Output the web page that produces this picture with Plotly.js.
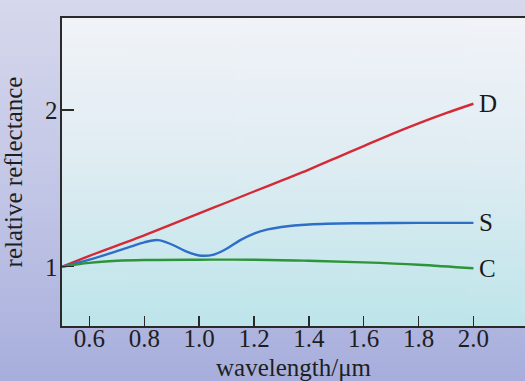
<!DOCTYPE html>
<html>
<head>
<meta charset="utf-8">
<script src="https://cdn.plot.ly/plotly-3.0.1.min.js"></script>
<style>
html,body{margin:0;padding:0;}
body{width:525px;height:381px;overflow:hidden;background:linear-gradient(180deg,#d6d8ec 0%,#c2c6e6 50%,#a7aedc 100%);}
#chart{width:525px;height:381px;}
</style>
</head>
<body>
<div id="chart"></div>
<script>
// Data (wavelength in micrometres, relative reflectance)
const dWave = [0.5, 0.6, 0.7, 0.8, 0.9, 1.0, 1.1, 1.2, 1.3, 1.4, 1.5, 1.6, 1.7, 1.8, 1.9, 2.0];
const dRefl = [1.0, 1.07, 1.135, 1.2, 1.27, 1.34, 1.41, 1.48, 1.55, 1.62, 1.695, 1.77, 1.845, 1.915, 1.98, 2.04];

const sWave = [0.5, 0.6, 0.7, 0.75, 0.8, 0.85, 0.9, 0.95, 1.0, 1.05, 1.1, 1.15, 1.2, 1.25, 1.3, 1.4, 1.6, 1.8, 2.0];
const sRefl = [1.0, 1.045, 1.1, 1.128, 1.156, 1.17, 1.142, 1.1, 1.072, 1.076, 1.115, 1.17, 1.212, 1.238, 1.254, 1.27, 1.278, 1.28, 1.28];

const cWave = [0.5, 0.6, 0.7, 0.8, 1.0, 1.2, 1.4, 1.6, 1.8, 2.0];
const cRefl = [1.0, 1.025, 1.038, 1.043, 1.045, 1.045, 1.038, 1.028, 1.013, 0.99];

const seriesLabels = ['D', 'S', 'C'];
const xTickVals = [0.6, 0.8, 1.0, 1.2, 1.4, 1.6, 1.8, 2.0];
const xTickText = ['0.6', '0.8', '1.0', '1.2', '1.4', '1.6', '1.8', '2.0'];
const yTickVals = [1, 2];
const yTickText = ['1', '2'];

// plot-area gradient background
function gradientURL() {
  const c = document.createElement('canvas');
  c.width = 4; c.height = 256;
  const g = c.getContext('2d');
  const gr = g.createLinearGradient(0, 0, 0, 256);
  gr.addColorStop(0, '#f1f3f8');
  gr.addColorStop(0.45, '#e0edf3');
  gr.addColorStop(1, '#bde5ea');
  g.fillStyle = gr;
  g.fillRect(0, 0, 4, 256);
  return c.toDataURL('image/png');
}

const serif = 'Liberation Serif, Times New Roman, serif';
const colors = ['#d42a35', '#2f6ec8', '#2d9438'];
const waves = [dWave, sWave, cWave];
const refls = [dRefl, sRefl, cRefl];

const traces = waves.map((w, i) => ({
  x: w, y: refls[i], type: 'scatter', mode: 'lines',
  line: {color: colors[i], width: 2.4, shape: 'spline', smoothing: 1},
  hoverinfo: 'skip', showlegend: false
}));

const annotations = seriesLabels.map((lab, i) => ({
  x: waves[i][waves[i].length - 1], y: refls[i][refls[i].length - 1],
  xref: 'x', yref: 'y', text: lab, showarrow: false,
  xanchor: 'left', yanchor: 'middle', xshift: 4,
  font: {family: serif, size: 25, color: '#1a1a1a'}
}));

const layout = {
  width: 525, height: 381,
  margin: {l: 62, r: 0, t: 18, b: 55, pad: 0},
  paper_bgcolor: 'rgba(0,0,0,0)',
  plot_bgcolor: 'rgba(0,0,0,0)',
  showlegend: false,
  images: [{source: gradientURL(), xref: 'paper', yref: 'paper', x: 0, y: 1,
            sizex: 1, sizey: 1, sizing: 'stretch', layer: 'below', xanchor: 'left', yanchor: 'top'}],
  xaxis: {
    range: [0.5, 2.188], showgrid: false, zeroline: false,
    showline: true, linecolor: '#2a2a2a', linewidth: 1.6, mirror: true,
    ticks: 'inside', ticklen: 10, tickwidth: 1.4, tickcolor: '#2a2a2a',
    tickvals: xTickVals, ticktext: xTickText, ticklabelstandoff: -11,
    tickfont: {family: serif, size: 25, color: '#1e1e1e'},
    title: {text: 'wavelength/μm', font: {family: serif, size: 25, color: '#1e1e1e'}}
  },
  yaxis: {
    range: [0.622, 2.587], showgrid: false, zeroline: false,
    showline: true, linecolor: '#2a2a2a', linewidth: 1.6,
    ticks: 'inside', ticklen: 12, tickwidth: 1.4, tickcolor: '#2a2a2a',
    tickvals: yTickVals, ticktext: yTickText, ticklabelstandoff: -2,
    tickfont: {family: serif, size: 25, color: '#1e1e1e'},
    title: {text: 'relative reflectance', font: {family: serif, size: 25, color: '#1e1e1e'}}
  },
  annotations: annotations
};

Plotly.newPlot('chart', traces, layout, {staticPlot: true, displayModeBar: false});
</script>
</body>
</html>
